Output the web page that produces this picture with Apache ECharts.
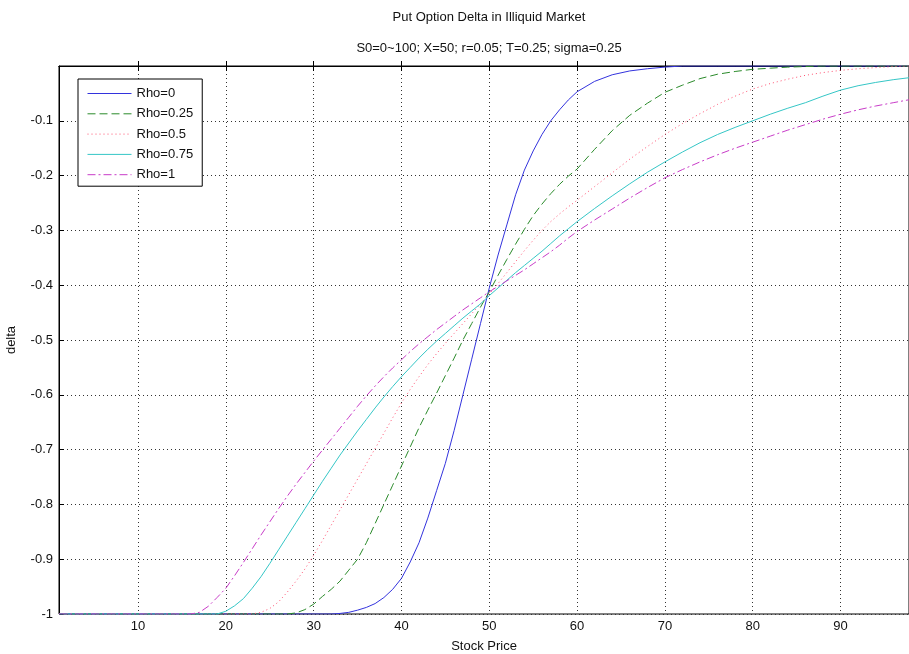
<!DOCTYPE html>
<html>
<head>
<meta charset="utf-8">
<title>Put Option Delta in Illiquid Market</title>
<script src="https://cdn.jsdelivr.net/npm/echarts@6/dist/echarts.min.js"></script>
<style>
  html, body { margin: 0; padding: 0; background: #fff; }
  #chart { width: 909px; height: 654px; }
</style>
</head>
<body>
<div id="chart"></div>
<script>
// stock price samples (x axis)
const price = [1, 5, 10, 14,
  16, 17, 18, 19, 20, 21, 22, 23, 24, 25, 26, 27, 28, 29, 30,
  31, 32, 33, 34, 35, 36, 37, 38, 39, 40, 41, 42, 43, 44, 45,
  46, 47, 48, 49, 50, 51, 52, 53, 54, 55, 56, 57, 58, 59, 60,
  62, 64, 66, 68, 70, 72, 74, 76, 78, 80, 82, 84, 86, 88, 90, 92, 94, 96, 98]

// delta, one value per price
const rho0 = [-1, -1, -1, -1,
  -1, -1, -1, -1, -1, -1, -1, -1, -1, -1, -1, -1, -1, -1, -1,
  -1, -1, -0.999, -0.997, -0.993, -0.988, -0.981, -0.97, -0.955, -0.935, -0.905, -0.87, -0.825, -0.775, -0.725,
  -0.665, -0.6, -0.535, -0.47, -0.405, -0.345, -0.29, -0.235, -0.19, -0.155, -0.125, -0.1, -0.08, -0.062, -0.047,
  -0.028, -0.016, -0.009, -0.005, -0.002, 0, 0, 0, 0, 0, 0, 0, 0, 0, 0, 0, 0, 0, 0]

const rho025 = [-1, -1, -1, -1,
  -1, -1, -1, -1, -1, -1, -1, -1, -1, -1, -1, -1, -0.998, -0.992, -0.982,
  -0.968, -0.955, -0.94, -0.92, -0.9, -0.87, -0.835, -0.8, -0.765, -0.73, -0.695, -0.66, -0.628, -0.597, -0.565,
  -0.533, -0.5, -0.47, -0.44, -0.412, -0.382, -0.353, -0.325, -0.298, -0.273, -0.252, -0.233, -0.216, -0.201, -0.188,
  -0.152, -0.118, -0.09, -0.068, -0.048, -0.035, -0.023, -0.015, -0.01, -0.006, -0.004, -0.002, -0.001, 0, 0, 0, 0, 0, 0]

const rho05 = [-1, -1, -1, -1,
  -1, -1, -1, -1, -1, -1, -1, -1, -0.997, -0.99, -0.978, -0.96, -0.94, -0.918, -0.893,
  -0.866, -0.838, -0.81, -0.782, -0.754, -0.726, -0.698, -0.67, -0.642, -0.615, -0.59, -0.567, -0.545, -0.525, -0.506,
  -0.488, -0.47, -0.452, -0.434, -0.416, -0.397, -0.377, -0.357, -0.337, -0.318, -0.3, -0.284, -0.27, -0.257, -0.245,
  -0.22, -0.195, -0.17, -0.147, -0.125, -0.105, -0.087, -0.07, -0.055, -0.042, -0.032, -0.024, -0.017, -0.012, -0.008, -0.005, -0.003, -0.001, 0]

const rho075 = [-1, -1, -1, -1,
  -1, -1, -1, -1, -0.995, -0.985, -0.972, -0.953, -0.932, -0.908, -0.883, -0.858, -0.833, -0.808, -0.783,
  -0.758, -0.734, -0.71, -0.688, -0.666, -0.645, -0.624, -0.604, -0.585, -0.567, -0.55, -0.533, -0.517, -0.502, -0.488,
  -0.474, -0.46, -0.447, -0.434, -0.419, -0.405, -0.391, -0.377, -0.364, -0.351, -0.338, -0.324, -0.31, -0.297, -0.284,
  -0.26, -0.237, -0.215, -0.194, -0.175, -0.157, -0.14, -0.125, -0.112, -0.1, -0.088, -0.077, -0.067, -0.055, -0.044, -0.036, -0.03, -0.025, -0.021]

const rho1 = [-1, -1, -1, -1,
  -1, -0.997, -0.986, -0.97, -0.953, -0.93, -0.906, -0.881, -0.856, -0.832, -0.808, -0.785, -0.763, -0.742, -0.721,
  -0.701, -0.681, -0.661, -0.641, -0.621, -0.602, -0.584, -0.567, -0.551, -0.536, -0.521, -0.507, -0.494, -0.481, -0.469,
  -0.457, -0.445, -0.434, -0.423, -0.412, -0.402, -0.392, -0.382, -0.372, -0.361, -0.35, -0.339, -0.327, -0.314, -0.302,
  -0.281, -0.261, -0.241, -0.222, -0.204, -0.189, -0.175, -0.162, -0.15, -0.139, -0.128, -0.117, -0.107, -0.097, -0.088, -0.08, -0.073, -0.067, -0.061]

const seriesNames = ['Rho=0', 'Rho=0.25', 'Rho=0.5', 'Rho=0.75', 'Rho=1']
const seriesValues = [rho0, rho025, rho05, rho075, rho1]
const seriesColors = ['#3333dd', '#2a8a2a', '#ff5070', '#35c6c6', '#c83cc8']
const seriesDash = ['solid', [8, 4], [1, 3], 'solid', [8, 3, 2, 3]]

const FONT = 'Liberation Sans, Arial, sans-serif'

const chart = echarts.init(document.getElementById('chart'))

const option = {
  animation: false,
  backgroundColor: '#fff',
  title: [
    {
      text: 'Put Option Delta in Illiquid Market',
      left: 484, top: 6, textAlign: 'center',
      textStyle: { fontFamily: FONT, fontSize: 13, fontWeight: 'normal', color: '#111' }
    },
    {
      text: 'S0=0~100; X=50; r=0.05; T=0.25; sigma=0.25',
      left: 484, top: 37, textAlign: 'center',
      textStyle: { fontFamily: FONT, fontSize: 13, fontWeight: 'normal', color: '#111' }
    }
  ],
  legend: {
    orient: 'vertical',
    left: 78, top: 79,
    padding: [8, 9, 5, 9],
    itemWidth: 44, itemHeight: 14, itemGap: 7.3,
    backgroundColor: '#fff',
    borderColor: '#000', borderWidth: 1,
    borderRadius: 0,
    itemStyle: { opacity: 0 },
    lineStyle: { width: 1 },
    textStyle: { fontFamily: FONT, fontSize: 13, color: '#111' },
    data: seriesNames.map((name, k) => ({
      name,
      lineStyle: { color: seriesColors[k], width: 1, type: seriesDash[k] }
    }))
  },
  grid: {
    left: 59, right: 0, top: 66, bottom: 40,
    containLabel: false, outerBoundsMode: 'none',
    show: true, borderColor: '#000', borderWidth: 1
  },
  xAxis: [
    {
      type: 'value',
      min: 1, max: 97.8,
      splitNumber: 10, minInterval: 10, maxInterval: 10,
      name: 'Stock Price', nameLocation: 'middle', nameGap: 26,
      nameTextStyle: { fontFamily: FONT, fontSize: 13, color: '#111' },
      axisLine: { lineStyle: { color: '#000', width: 1 } },
      axisTick: { inside: true, length: 5, lineStyle: { color: '#000' } },
      axisLabel: { showMinLabel: false, showMaxLabel: false, margin: 6, fontFamily: FONT, fontSize: 13, color: '#111' },
      splitLine: { show: true, lineStyle: { color: '#333', type: [1, 3], width: 1 } }
    },
    {
      type: 'value',
      position: 'top',
      min: 1, max: 97.8,
      splitNumber: 10, minInterval: 10, maxInterval: 10,
      axisLine: { lineStyle: { color: '#000', width: 1 } },
      axisTick: { inside: true, length: 5, lineStyle: { color: '#000' } },
      axisLabel: { show: false },
      splitLine: { show: false }
    }
  ],
  yAxis: {
    type: 'value',
    min: -1, max: 0, interval: 0.1,
    name: 'delta', nameLocation: 'middle', nameGap: 41,
    nameTextStyle: { fontFamily: FONT, fontSize: 13, color: '#111' },
    axisLine: { show: true, lineStyle: { color: '#000', width: 1 } },
    axisTick: { show: true, inside: true, length: 5, lineStyle: { color: '#000' } },
    axisLabel: { showMaxLabel: false, margin: 6, fontFamily: FONT, fontSize: 13, color: '#111' },
    splitLine: { show: true, lineStyle: { color: '#333', type: [1, 3], width: 1 } }
  },
  series: seriesNames.map((name, k) => ({
    name,
    type: 'line',
    xAxisIndex: 0,
    symbol: 'none',
    data: price.map((p, i) => [p, seriesValues[k][i]]),
    lineStyle: { color: seriesColors[k], width: 1, type: seriesDash[k] },
    itemStyle: { color: seriesColors[k] }
  }))
}

chart.setOption(option)
</script>
</body>
</html>
